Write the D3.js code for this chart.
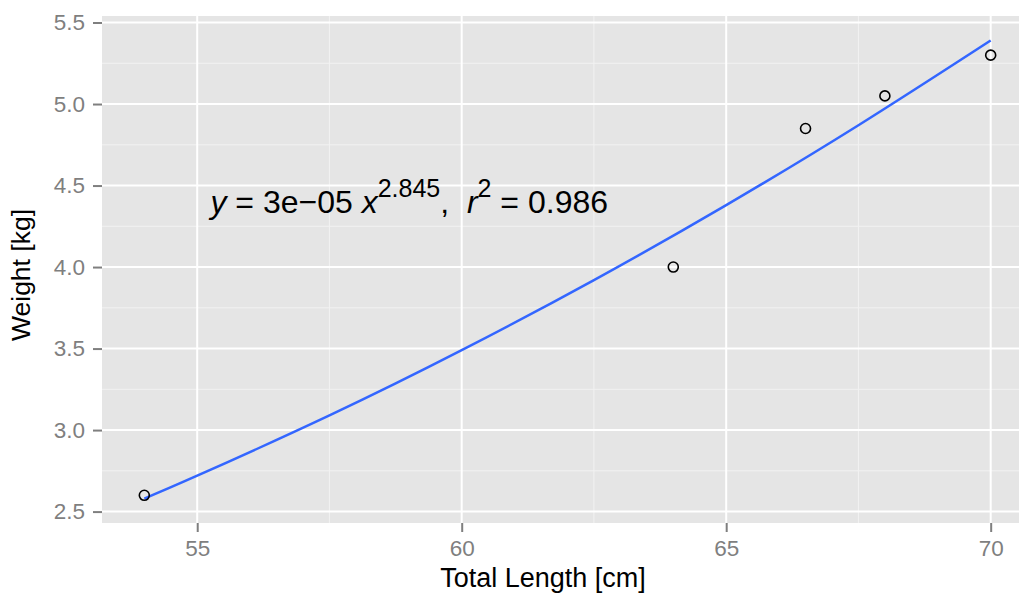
<!DOCTYPE html>
<html>
<head>
<meta charset="utf-8">
<script src="https://cdn.jsdelivr.net/npm/d3@7"></script>
<style>
  body { margin: 0; background: #fff; }
  svg { display: block; font-family: "Liberation Sans", Arial, sans-serif; }
</style>
</head>
<body>
<svg id="chart"></svg>
<script>
// observed fish
const lengths = [54, 64, 66.5, 68, 70];
const weights = [2.6, 4.0, 4.85, 5.05, 5.3];

// fitted power curve
const fitX = [54, 55, 57.5, 60, 62.5, 65, 67.5, 70];
const fitY = [2.58, 2.72, 3.09, 3.49, 3.92, 4.38, 4.87, 5.39];

const xTicks = [55, 60, 65, 70];
const xMinor = [57.5, 62.5, 67.5];
const yTicks = [2.5, 3.0, 3.5, 4.0, 4.5, 5.0, 5.5];
const yMinor = [2.75, 3.25, 3.75, 4.25, 4.75, 5.25];

const width = 1019, height = 594;
const margin = {top: 16, right: -14, bottom: 71, left: 102};
const innerW = width - margin.left - margin.right;
const innerH = height - margin.top - margin.bottom;

const svg = d3.select('#chart')
    .attr('width', width)
    .attr('height', height);

const chart = svg.append('g')
    .attr('transform', `translate(${margin.left}, ${margin.top})`);

const xscale = d3.scaleLinear()
    .domain([53.2, 70.8])
    .range([0, innerW]);

const yscale = d3.scaleLinear()
    .domain([2.43, 5.54])
    .range([innerH, 0]);

// panel
chart.append('rect')
    .attr('width', innerW)
    .attr('height', innerH)
    .attr('fill', '#e5e5e5');

// grid
chart.selectAll('.ygrid-minor').data(yMinor).join('line')
    .attr('x1', 0).attr('x2', innerW)
    .attr('y1', d => yscale(d)).attr('y2', d => yscale(d))
    .attr('stroke', '#f2f2f2').attr('stroke-width', 1);
chart.selectAll('.xgrid-minor').data(xMinor).join('line')
    .attr('y1', 0).attr('y2', innerH)
    .attr('x1', d => xscale(d)).attr('x2', d => xscale(d))
    .attr('stroke', '#f2f2f2').attr('stroke-width', 1);
chart.selectAll('.ygrid').data(yTicks).join('line')
    .attr('x1', 0).attr('x2', innerW)
    .attr('y1', d => yscale(d)).attr('y2', d => yscale(d))
    .attr('stroke', '#ffffff').attr('stroke-width', 2);
chart.selectAll('.xgrid').data(xTicks).join('line')
    .attr('y1', 0).attr('y2', innerH)
    .attr('x1', d => xscale(d)).attr('x2', d => xscale(d))
    .attr('stroke', '#ffffff').attr('stroke-width', 2);

// axes
const xaxis = d3.axisBottom(xscale)
    .tickValues(xTicks)
    .tickFormat(d3.format('d'))
    .tickSize(9)
    .tickPadding(8)
    .tickSizeOuter(0);
const yaxis = d3.axisLeft(yscale)
    .tickValues(yTicks)
    .tickFormat(d3.format('.1f'))
    .tickSize(9)
    .tickPadding(8)
    .tickSizeOuter(0);

const xg = chart.append('g')
    .attr('transform', `translate(0, ${innerH})`)
    .call(xaxis);
const yg = chart.append('g')
    .call(yaxis);

[xg, yg].forEach(g => {
    g.select('.domain').remove();
    g.selectAll('line').attr('stroke', '#7f7f7f').attr('stroke-width', 2);
    g.selectAll('text')
        .attr('fill', '#7f7f7f')
        .style('font-size', '22.5px')
        .style('font-family', '"Liberation Sans", Arial, sans-serif');
});

// fitted line
const line = d3.line()
    .x((d, i) => xscale(fitX[i]))
    .y(d => yscale(d))
    .curve(d3.curveNatural);

chart.append('path')
    .attr('d', line(fitY))
    .attr('fill', 'none')
    .attr('stroke', '#3366ff')
    .attr('stroke-width', 2.5);

// points
chart.selectAll('.pt').data(lengths).join('circle')
    .attr('cx', d => xscale(d))
    .attr('cy', (d, i) => yscale(weights[i]))
    .attr('r', 5)
    .attr('fill', 'none')
    .attr('stroke', '#000')
    .attr('stroke-width', 1.6);

// equation label
const eq = chart.append('text')
    .attr('x', xscale(55.25))
    .attr('y', yscale(4.33))
    .attr('xml:space', 'preserve')
    .style('white-space', 'pre')
    .style('font-size', '32px')
    .attr('fill', '#000');
eq.append('tspan').style('font-style', 'italic').text('y');
eq.append('tspan').text(' = 3e\u221205 ');
eq.append('tspan').style('font-style', 'italic').text('x');
eq.append('tspan').attr('dy', -16).style('font-size', '25px').text('2.845');
eq.append('tspan').attr('dy', 16).text(',  ');
eq.append('tspan').style('font-style', 'italic').text('r');
eq.append('tspan').attr('dy', -16).style('font-size', '25px').text('2');
eq.append('tspan').attr('dy', 16).text(' = 0.986');

// axis titles
svg.append('text')
    .attr('x', 543)
    .attr('y', 587)
    .attr('text-anchor', 'middle')
    .style('font-size', '27px')
    .text('Total Length [cm]');

svg.append('text')
    .attr('transform', `translate(30, 275) rotate(-90)`)
    .attr('text-anchor', 'middle')
    .style('font-size', '26.5px')
    .text('Weight [kg]');
</script>
</body>
</html>
